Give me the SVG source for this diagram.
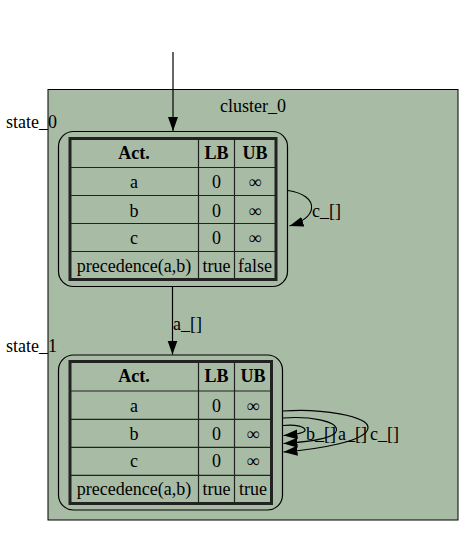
<svg xmlns="http://www.w3.org/2000/svg" width="474" height="537" viewBox="0 0 474 537">
<style>
text{font-family:"Liberation Serif","Times New Roman",serif;font-size:18px;fill:#000}
.h{font-weight:bold}
.c{text-anchor:middle}
.cl{fill:#a8bba5;stroke:#000;stroke-width:1}
.nd{fill:none;stroke:#000;stroke-width:1.2}
.tb{fill:none;stroke:#222;stroke-width:3}
.ln{stroke:#222;stroke-width:1.2;fill:none}
.e{fill:none;stroke:#000;stroke-width:1.2}
</style>
<defs>
<marker id="ah" markerUnits="userSpaceOnUse" markerWidth="15" markerHeight="11" refX="14" refY="5" orient="auto" viewBox="0 0 15 11">
<path d="M0,0 L14,5 L0,10 z" fill="#000"/>
</marker>
</defs>
<rect width="474" height="537" fill="#fff"/>
<g id="cluster_0">
<rect class="cl" x="48" y="89.5" width="410" height="430.5"/>
<text class="c" x="253" y="112">cluster_0</text>
</g>
<g id="state_0">
<text x="6" y="127.5">state_0</text>
<rect class="nd" x="58.5" y="131.5" width="229" height="155" rx="15"/>
<rect class="tb" x="70" y="138.5" width="206" height="141"/>
<path class="ln" d="M198.5,138.5V279.5M234.5,138.5V279.5M70,167.5H276M70,195.5H276M70,223.5H276M70,251.5H276"/>
<text class="c h" x="134" y="159">Act.</text>
<text class="c h" x="216.5" y="159">LB</text>
<text class="c h" x="255" y="159">UB</text>
<text class="c" x="134" y="188">a</text>
<text class="c" x="216.5" y="188">0</text>
<text class="c" x="255" y="188">∞</text>
<text class="c" x="134" y="216.5">b</text>
<text class="c" x="216.5" y="216.5">0</text>
<text class="c" x="255" y="216.5">∞</text>
<text class="c" x="134" y="244">c</text>
<text class="c" x="216.5" y="244">0</text>
<text class="c" x="255" y="244">∞</text>
<text class="c" x="134" y="272">precedence(a,b)</text>
<text class="c" x="216.5" y="272">true</text>
<text class="c" x="255" y="272">false</text>
</g>
<g id="state_1">
<text x="6" y="351.5">state_1</text>
<rect class="nd" x="58.5" y="355" width="224" height="155" rx="15"/>
<rect class="tb" x="70" y="361.5" width="201.5" height="142"/>
<path class="ln" d="M198.5,361.5V503.5M234.5,361.5V503.5M70,391H271.5M70,419.3H271.5M70,447.3H271.5M70,475.3H271.5"/>
<text class="c h" x="134" y="381.7">Act.</text>
<text class="c h" x="216.5" y="381.7">LB</text>
<text class="c h" x="253" y="381.7">UB</text>
<text class="c" x="134" y="411.5">a</text>
<text class="c" x="216.5" y="411.5">0</text>
<text class="c" x="253" y="411.5">∞</text>
<text class="c" x="134" y="439.5">b</text>
<text class="c" x="216.5" y="439.5">0</text>
<text class="c" x="253" y="439.5">∞</text>
<text class="c" x="134" y="467.3">c</text>
<text class="c" x="216.5" y="467.3">0</text>
<text class="c" x="253" y="467.3">∞</text>
<text class="c" x="134" y="495">precedence(a,b)</text>
<text class="c" x="216.5" y="495">true</text>
<text class="c" x="253" y="495">true</text>
</g>
<g id="edges">
<path class="e" d="M173,52V131" marker-end="url(#ah)"/>
<path class="e" d="M288,190.5C302,192.5 313,199 311.5,209C310,217 302,222 289.5,226" marker-end="url(#ah)"/>
<text x="312" y="217">c_[]</text>
<path class="e" d="M172.5,286.5V354.5" marker-end="url(#ah)"/>
<text x="173" y="330">a_[]</text>
<path class="e" d="M283,425.5C296,424 306,427 305,430.5C304,433 296,434.5 283.5,435.5" marker-end="url(#ah)"/>
<path class="e" d="M283,418C310,416 337,421 336.5,430C336,438 310,442 283.5,443.5" marker-end="url(#ah)"/>
<path class="e" d="M283,411C320,408 369,416 368,428C367,441 320,449 283.5,452" marker-end="url(#ah)"/>
<text x="306" y="440">b_[]</text>
<text x="338" y="440">a_[]</text>
<text x="370" y="440">c_[]</text>
</g>
</svg>
